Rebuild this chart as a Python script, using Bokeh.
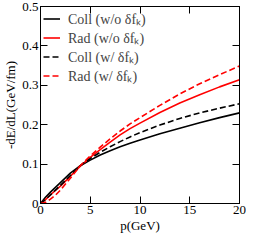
from bokeh.plotting import figure
from bokeh.models import LinearAxis, FixedTicker, Legend, LegendItem, Range1d, CustomLabelingPolicy
from bokeh.embed import file_html
from bokeh.resources import INLINE

# momentum grid (GeV)
p_gev = [0, 0.5, 1, 1.5, 2, 3, 4, 5, 6, 7, 8, 9, 10, 12, 14, 16, 18, 20]
# -dE/dL (GeV/fm)
coll_wo = [0, 0.016, 0.029, 0.041, 0.053, 0.077, 0.096, 0.110, 0.123, 0.134, 0.144, 0.153, 0.161, 0.177, 0.191, 0.205, 0.218, 0.230]
rad_wo = [0, 0.010, 0.022, 0.033, 0.044, 0.069, 0.095, 0.117, 0.137, 0.156, 0.174, 0.190, 0.204, 0.231, 0.255, 0.276, 0.296, 0.314]
coll_w = [0, 0.010, 0.022, 0.034, 0.046, 0.071, 0.096, 0.114, 0.130, 0.144, 0.157, 0.169, 0.180, 0.199, 0.216, 0.230, 0.242, 0.253]
rad_w = [0, 0.003, 0.011, 0.021, 0.034, 0.064, 0.096, 0.121, 0.143, 0.164, 0.184, 0.202, 0.218, 0.249, 0.278, 0.304, 0.327, 0.349]

series_labels = ["Coll (w/o δfₖ)", "Rad (w/o δfₖ)", "Coll (w/ δfₖ)", "Rad (w/ δfₖ)"]

x_ticks = [0, 5, 10, 15, 20]
x_tick_labels = ["0", "5", "10", "15", "20"]
y_ticks = [0, 0.1, 0.2, 0.3, 0.4, 0.5]
y_tick_labels = ["0", "0.1", "0.2", "0.3", "0.4", "0.5"]

FONT = "Liberation Serif"

p = figure(width=246, height=235, x_range=Range1d(0, 20), y_range=Range1d(0, 0.5),
           output_backend="svg", toolbar_location=None,
           min_border_left=0, min_border_top=6, min_border_right=7, min_border_bottom=0,
           x_axis_label="p(GeV)", y_axis_label="-dE/dL(GeV/fm)")
p.xgrid.visible = False
p.ygrid.visible = False
p.outline_line_color = "black"
p.outline_line_width = 1
p.background_fill_color = "white"
p.border_fill_color = "white"

xt = FixedTicker(ticks=x_ticks, num_minor_ticks=2)
yt = FixedTicker(ticks=y_ticks, num_minor_ticks=2)
p.xaxis.ticker = xt
p.yaxis.ticker = yt
p.xaxis.major_label_overrides = dict(zip(x_ticks, x_tick_labels))
p.yaxis.major_label_overrides = dict(zip(y_ticks, y_tick_labels))

for ax in [p.xaxis[0], p.yaxis[0]]:
    ax.major_tick_in = 7
    ax.major_tick_out = 0
    ax.minor_tick_in = 4
    ax.minor_tick_out = 0
    ax.axis_line_color = "black"
    ax.major_tick_line_color = "black"
    ax.minor_tick_line_color = "black"
    ax.major_label_text_font = FONT
    ax.major_label_text_font_size = "13px"
    ax.major_label_text_color = "black"
    ax.major_label_standoff = 2
    ax.axis_label_text_font = FONT
    ax.axis_label_text_font_size = "13px"
    ax.axis_label_text_font_style = "normal"
    ax.axis_label_text_color = "black"
    ax.axis_label_standoff = 1

# mirrored axes (ticks only, no labels drawn, no space taken)
no_labels = CustomLabelingPolicy(code="return new Set()")
for loc, tk in [("right", yt), ("above", xt)]:
    ax = LinearAxis(ticker=tk, major_tick_in=7, major_tick_out=0, minor_tick_in=4, minor_tick_out=0,
                    major_label_policy=no_labels, major_label_standoff=0,
                    major_label_text_font_size="0px",
                    axis_line_color="black", major_tick_line_color="black", minor_tick_line_color="black")
    p.add_layout(ax, loc)

r1 = p.line(p_gev, coll_wo, line_color="black", line_width=1.6)
r2 = p.line(p_gev, rad_wo, line_color="#ff0000", line_width=1.6)
r3 = p.line(p_gev, coll_w, line_color="black", line_width=1.6, line_dash="6 3")
r4 = p.line(p_gev, rad_w, line_color="#ff0000", line_width=1.6, line_dash="6 3")

legend = Legend(items=[LegendItem(label=lab, renderers=[r]) for lab, r in zip(series_labels, [r1, r2, r3, r4])],
                location="top_left", border_line_alpha=0, background_fill_alpha=0,
                label_text_font=FONT, label_text_font_size="14px",
                glyph_width=17, glyph_height=13, label_height=13, spacing=-3,
                padding=3, margin=0, label_standoff=8)
p.add_layout(legend)

open("out.html", "w").write(file_html(p, INLINE))
